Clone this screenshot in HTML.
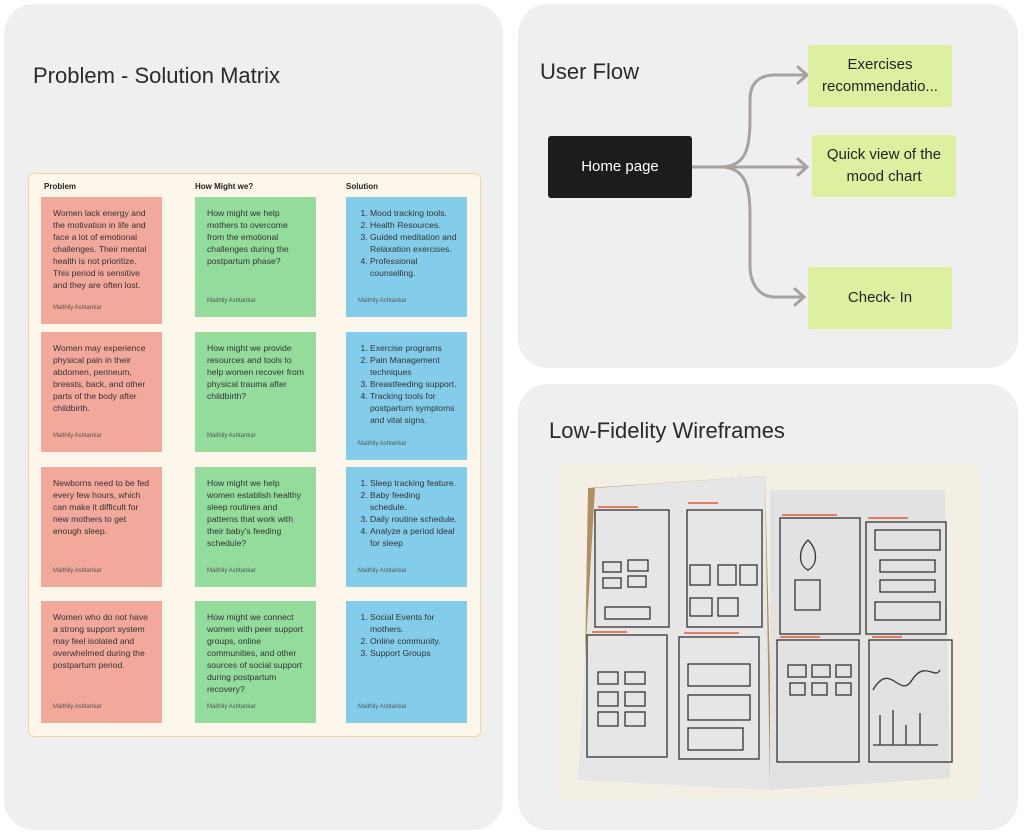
<!DOCTYPE html>
<html><head><style>
body{margin:0;width:1024px;height:837px;background:#fff;position:relative;font-family:"Liberation Sans",sans-serif;overflow:hidden}
.p{position:absolute;background:#efefef;border-radius:30px}
.t{position:absolute;color:#2a2a2a;font-size:22px}
.mx{position:absolute;left:28px;top:173px;width:451px;height:562px;background:#fdf6ea;border:1px solid #f0d6a4;border-radius:6px}
.h{position:absolute;top:8px;font-size:8px;font-weight:bold;color:#222}
.c{position:absolute;width:121px;box-sizing:border-box;padding:10px 10px 0 12px;font-size:8.6px;line-height:12px;color:#333}
.c .a{position:absolute;left:12px;bottom:10px;font-size:6px;color:#555}
.r{background:#f2a89a}.g{background:#93dc9c}.b{background:#83cdeb}
.c ol{margin:0;padding-left:12px}
.bx{position:absolute;display:flex;align-items:center;justify-content:center;text-align:center;font-size:15px;line-height:22px;color:#222;background:#ddf0a0;border-radius:2px}
</style></head><body>
<div class="p" style="left:4px;top:4px;width:499px;height:826px"></div>
<div class="p" style="left:518px;top:4px;width:500px;height:364px"></div>
<div class="p" style="left:518px;top:384px;width:500px;height:446px"></div>
<div class="t" style="left:33px;top:63px">Problem - Solution Matrix</div>
<div class="t" style="left:540px;top:59px">User Flow</div>
<div class="t" style="left:549px;top:418px">Low-Fidelity Wireframes</div>
<div class="mx">
<div class="h" style="left:15px">Problem</div><div class="h" style="left:166px">How Might we?</div><div class="h" style="left:317px">Solution</div>
<div class="c r" style="left:12px;top:23px;height:127px">Women lack energy and the motivation in life and face a lot of emotional challenges. Their mental health is not prioritize. This period is sensitive and they are often lost.<div class="a">Maithily Ashtankar</div></div>
<div class="c g" style="left:166px;top:23px;height:120px">How might we help mothers to overcome from the emotional challenges during the postpartum phase?<div class="a">Maithily Ashtankar</div></div>
<div class="c b" style="left:317px;top:23px;height:120px"><ol><li>Mood tracking tools.</li><li>Health Resources.</li><li>Guided meditation and Relaxation exercises.</li><li>Professional counselling.</li></ol><div class="a">Maithily Ashtankar</div></div>
<div class="c r" style="left:12px;top:158px;height:120px">Women may experience physical pain in their abdomen, perineum, breasts, back, and other parts of the body after childbirth.<div class="a">Maithily Ashtankar</div></div>
<div class="c g" style="left:166px;top:158px;height:120px">How might we provide resources and tools to help women recover from physical trauma after childbirth?<div class="a">Maithily Ashtankar</div></div>
<div class="c b" style="left:317px;top:158px;height:128px"><ol><li>Exercise programs</li><li>Pain Management techniques</li><li>Breastfeeding support.</li><li>Tracking tools for postpartum symptoms and vital signs.</li></ol><div class="a">Maithily Ashtankar</div></div>
<div class="c r" style="left:12px;top:293px;height:120px">Newborns need to be fed every few hours, which can make it difficult for new mothers to get enough sleep.<div class="a">Maithily Ashtankar</div></div>
<div class="c g" style="left:166px;top:293px;height:120px">How might we help women establish healthy sleep routines and patterns that work with their baby's feeding schedule?<div class="a">Maithily Ashtankar</div></div>
<div class="c b" style="left:317px;top:293px;height:120px"><ol><li>Sleep tracking feature.</li><li>Baby feeding schedule.</li><li>Daily routine schedule.</li><li>Analyze a period ideal for sleep</li></ol><div class="a">Maithily Ashtankar</div></div>
<div class="c r" style="left:12px;top:427px;height:122px">Women who do not have a strong support system may feel isolated and overwhelmed during the postpartum period.<div class="a">Maithily Ashtankar</div></div>
<div class="c g" style="left:166px;top:427px;height:122px">How might we connect women with peer support groups, online communities, and other sources of social support during postpartum recovery?<div class="a">Maithily Ashtankar</div></div>
<div class="c b" style="left:317px;top:427px;height:122px"><ol><li>Social Events for mothers.</li><li>Online community.</li><li>Support Groups</li></ol><div class="a">Maithily Ashtankar</div></div>
</div>
<svg style="position:absolute;left:0;top:0" width="1024" height="837">
<g fill="none" stroke="#a8a29e" stroke-width="3" stroke-linecap="round">
<path d="M692 167 H806"/><path d="M798 159 L807 167 L798 175"/>
<path d="M720 167 C745 167 750 150 750 120 V100 C750 82 760 75 775 75 H806"/><path d="M798 67 L807 75 L798 83"/>
<path d="M720 167 C745 167 750 185 750 215 V265 C750 285 760 297 775 297 H803"/><path d="M795 289 L804 297 L795 305"/>
</g>
<rect x="557" y="465" width="423" height="334" fill="#f4efe4"/>
<polygon points="588,488 765,476 773,790 583,778" fill="#b09060"/>
<polygon points="595,488 765,476 770,790 578,780" fill="#e6e6e6"/>
<polygon points="770,490 945,490 950,778 770,790" fill="#e2e2e2"/>
<g fill="none" stroke="#e05a3a" stroke-width="1.5">
<path d="M598 507 h40"/><path d="M688 503 h30"/><path d="M782 515 h55"/><path d="M868 518 h40"/>
<path d="M592 632 h35"/><path d="M684 633 h55"/><path d="M780 637 h40"/><path d="M872 637 h30"/>
</g>
<g fill="none" stroke="#333" stroke-width="1.3">
<rect x="595" y="510" width="74" height="117"/><rect x="687" y="510" width="75" height="117"/>
<rect x="780" y="518" width="80" height="116"/><rect x="866" y="522" width="80" height="112"/>
<rect x="587" y="635" width="80" height="122"/><rect x="679" y="637" width="80" height="122"/>
<rect x="777" y="640" width="82" height="122"/><rect x="869" y="640" width="83" height="122"/>
<rect x="603" y="562" width="18" height="10"/><rect x="628" y="560" width="20" height="11"/><rect x="603" y="578" width="18" height="10"/><rect x="628" y="576" width="18" height="11"/>
<rect x="605" y="607" width="45" height="12"/>
<rect x="690" y="565" width="20" height="20"/><rect x="718" y="565" width="18" height="20"/><rect x="740" y="565" width="17" height="20"/>
<rect x="690" y="598" width="22" height="18"/><rect x="718" y="598" width="20" height="18"/>
<path d="M873 690 C890 660 900 700 912 680 C925 660 935 680 940 670"/>
<path d="M873 745 h65 M880 745 v-30 M893 745 v-35 M906 745 v-20 M920 745 v-32"/>
<path d="M808 540 c-10 10 -10 25 0 30 c10 -5 10 -20 0 -30 M795 580 h25 v30 h-25z"/>
<rect x="598" y="672" width="20" height="12"/><rect x="625" y="672" width="20" height="12"/><rect x="598" y="692" width="20" height="14"/><rect x="625" y="692" width="20" height="14"/><rect x="598" y="712" width="20" height="14"/><rect x="625" y="712" width="20" height="14"/>
<rect x="688" y="664" width="62" height="22"/><rect x="688" y="695" width="62" height="25"/><rect x="688" y="728" width="55" height="22"/>
<rect x="788" y="665" width="18" height="12"/><rect x="812" y="665" width="18" height="12"/><rect x="836" y="665" width="15" height="12"/>
<rect x="790" y="683" width="15" height="12"/><rect x="812" y="683" width="15" height="12"/><rect x="836" y="683" width="15" height="12"/>
<rect x="875" y="530" width="65" height="20"/><rect x="880" y="560" width="55" height="12"/><rect x="880" y="580" width="55" height="12"/><rect x="875" y="602" width="65" height="18"/>
</g>
</svg>
<div class="bx" style="left:548px;top:136px;width:144px;height:62px;background:#1c1c1c;color:#fff;border-radius:3px">Home page</div>
<div class="bx" style="left:808px;top:45px;width:144px;height:62px">Exercises<br>recommendatio...</div>
<div class="bx" style="left:812px;top:135px;width:144px;height:62px">Quick view of the<br>mood chart</div>
<div class="bx" style="left:808px;top:267px;width:144px;height:62px">Check- In</div>
</body></html>
